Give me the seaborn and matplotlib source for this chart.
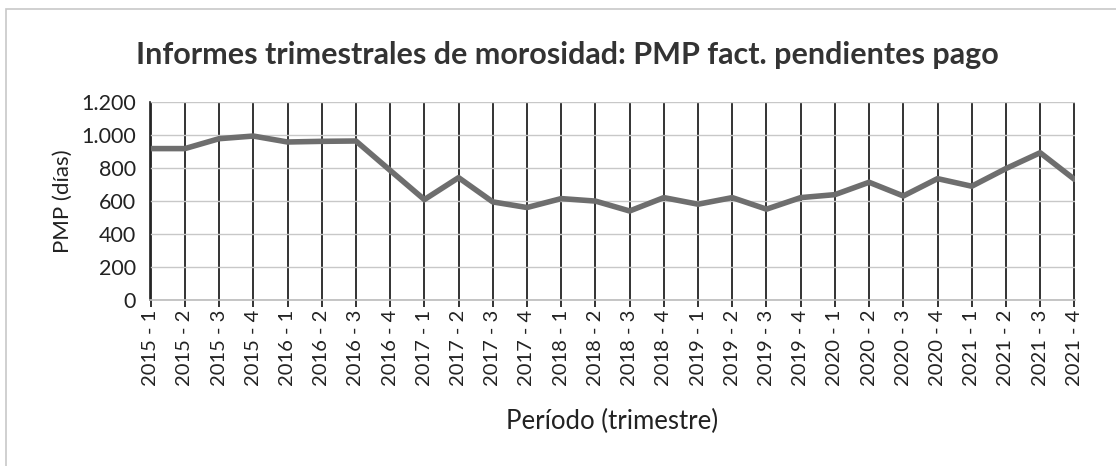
import matplotlib
matplotlib.use("Agg")
import matplotlib.pyplot as plt
import matplotlib.ticker as mticker
import seaborn as sns
import pandas as pd

periods = [f"{y} - {q}" for y in range(2015, 2022) for q in range(1, 5)]
pmp_days = [918, 918, 978, 994, 958, 962, 964, 786,
            609, 742, 595, 561, 615, 600, 540, 621,
            581, 621, 551, 621, 639, 714, 631, 736,
            690, 797, 893, 732]
y_ticks = [0, 200, 400, 600, 800, 1000, 1200]

title = "Informes trimestrales de morosidad: PMP fact. pendientes pago"
xlabel = "Período (trimestre)"
ylabel = "PMP (días)"

df = pd.DataFrame({"periodo": periods, "pmp": pmp_days})

sns.set_theme(style="white")
plt.rcParams["font.family"] = ["Lato", "DejaVu Sans"]

fig = plt.figure(figsize=(11.16, 4.66), dpi=100)
fig.patch.set_facecolor("white")
ax = fig.add_axes([0.1344, 0.356, 0.8289, 0.425])

sns.lineplot(data=df, x="periodo", y="pmp", sort=False, color="#6e6e6e",
             linewidth=4.0, ax=ax)

ax.set_ylim(0, 1200)
ax.set_yticks(y_ticks)
ax.yaxis.set_major_formatter(mticker.FuncFormatter(
    lambda v, p: f"{int(v):,}".replace(",", ".")))
ax.set_xlim(-0.02, len(periods) - 1 + 0.02)

ax.grid(axis="y", color="#c8c8c8", linewidth=1.0)
ax.grid(axis="x", color="#111111", linewidth=1.2)
ax.set_axisbelow(True)

for s in ["top", "right"]:
    ax.spines[s].set_visible(False)
ax.spines["left"].set_color("#222222")
ax.spines["left"].set_linewidth(1.2)
ax.spines["bottom"].set_color("#bbbbbb")
ax.spines["bottom"].set_linewidth(1.2)

ax.tick_params(axis="x", which="major", bottom=True, length=5, width=1.2,
               color="#111111", labelsize=14.5, labelcolor="#222222",
               labelrotation=90, pad=2)
ax.tick_params(axis="y", which="major", left=False, labelsize=15.5,
               labelcolor="#222222", pad=4)

ax.set_xlabel(xlabel, fontsize=18.5, color="#222222", labelpad=16)
ax.set_ylabel(ylabel, fontsize=16, color="#222222", labelpad=6)

fig.text(0.508, 0.882, title, ha="center", va="center", fontsize=22,
         fontweight="bold", color="#333333")

# outer chart border
border = plt.Rectangle((0.005, -0.01), 1.2, 0.99, transform=fig.transFigure,
                       fill=False, edgecolor="#c8c8c8", linewidth=1.2)
fig.patches.append(border)

fig.savefig("out.png", dpi=100, facecolor="white")
